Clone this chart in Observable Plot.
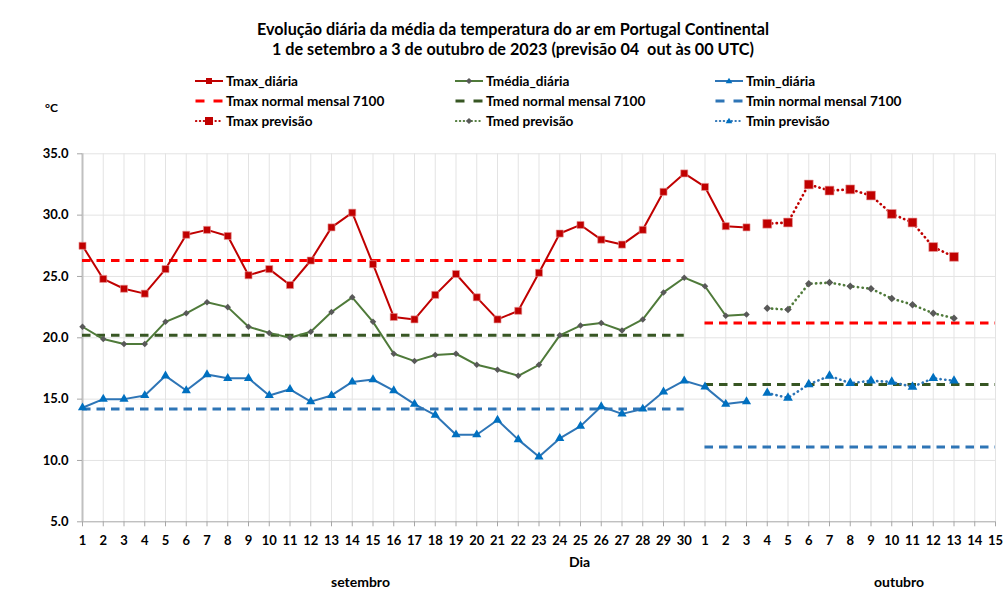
<!DOCTYPE html>
<html>
<head>
<meta charset="utf-8">
<script src="https://cdn.jsdelivr.net/npm/d3@7"></script>
<script src="https://cdn.jsdelivr.net/npm/@observablehq/plot@0.6"></script>
<style>
  html, body { margin: 0; padding: 0; background: #fff; }
  body { width: 1006px; height: 591px; position: relative; overflow: hidden; font-family: Lato, "Open Sans", sans-serif; font-weight: bold; color: #000; }
  .abs { position: absolute; white-space: pre; }
  #title { left: 20px; width: 986px; top: 19px; text-align: center; font-size: 16.2px; line-height: 19.5px; }
  .leg { position: absolute; font-size: 13.6px; line-height: 16px; display: flex; align-items: center; white-space: pre; }
  .leg svg { margin-right: 3px; }
  #chart { position: absolute; left: 0; top: 140px; }
</style>
</head>
<body>
<div id="title" class="abs">Evolução diária da média da temperatura do ar em Portugal Continental
1 de setembro a 3 de outubro de 2023 (previsão 04  out às 00 UTC)</div>
<div id="legend"></div>
<div class="abs" style="left:45px; top:100px; font-size:12px;">°C</div>
<div class="abs" style="left:569px; top:553px; font-size:14px;">Dia</div>
<div class="abs" style="left:331px; top:573px; font-size:14px;">setembro</div>
<div class="abs" style="left:874px; top:573px; font-size:14px;">outubro</div>
<div id="chart"></div>
<script>
// ---- data ----
const tickLabels = [...Array.from({length: 30}, (_, k) => String(k + 1)), ...Array.from({length: 15}, (_, k) => String(k + 1))];
const tmaxDaily = [27.5,24.8,24.0,23.6,25.6,28.4,28.8,28.3,25.1,25.6,24.3,26.3,29.0,30.2,26.0,21.7,21.5,23.5,25.2,23.3,21.5,22.2,25.3,28.5,29.2,28.0,27.6,28.8,31.9,33.4,32.3,29.1,29.0];
const tmedDaily = [20.9,19.9,19.5,19.5,21.3,22.0,22.9,22.5,20.9,20.4,20.0,20.5,22.1,23.3,21.3,18.7,18.1,18.6,18.7,17.8,17.4,16.9,17.8,20.2,21.0,21.2,20.6,21.5,23.7,24.9,24.2,21.8,21.9];
const tminDaily = [14.3,15.0,15.0,15.3,16.9,15.7,17.0,16.7,16.7,15.3,15.8,14.8,15.3,16.4,16.6,15.7,14.6,13.7,12.1,12.1,13.3,11.7,10.3,11.8,12.8,14.4,13.8,14.2,15.6,16.5,16.0,14.6,14.8];
const forecastStart = 33; // index of 4 October
const tmaxPrev = [29.3,29.4,32.5,32.0,32.1,31.6,30.1,29.4,27.4,26.6];
const tmedPrev = [22.4,22.3,24.4,24.5,24.2,24.0,23.2,22.7,22.0,21.6];
const tminPrev = [15.5,15.1,16.2,16.9,16.3,16.5,16.4,16.0,16.7,16.5];
// normals: [tmax, tmed, tmin]
const normalSept = [26.3, 20.2, 14.2];
const normalOct = [21.2, 16.2, 11.1];
const septSpan = [0, 29];
const octSpan = [30, 44];
const yTicks = [5, 10, 15, 20, 25, 30, 35];

// ---- styles ----
const C = {
  tmax: "#c00000", tmaxN: "#ff0000",
  tmed: "#4f7a3a", tmedN: "#375623", tmedM: "#595959",
  tmin: "#2e75b6", tminN: "#2e75b6", tminM: "#0070c0"
};
const dashN = "8.5,6";
const dotP = "0.3,4.4";

const daily = arr => arr.map((v, i) => ({i, v}));
const prev = arr => arr.map((v, k) => ({i: forecastStart + k, v}));
const idx = d3.range(tickLabels.length);

function normal(val, span, color) {
  return Plot.ruleY([val], {x1: span[0], x2: span[1], stroke: color, strokeWidth: 3, strokeDasharray: dashN});
}
function dotted(data, color) {
  return Plot.line(data, {x: "i", y: "v", stroke: color, strokeWidth: 2.6, strokeDasharray: dotP, strokeLinecap: "round"});
}

const chart = Plot.plot({
  width: 1006, height: 451,
  marginLeft: 82, marginRight: 11, marginTop: 13.3, marginBottom: 69.7,
  style: {fontFamily: "Lato, 'Open Sans', sans-serif", fontSize: "13px", fontWeight: "bold", color: "#000", background: "transparent"},
  x: {domain: [0, 44]},
  y: {domain: [5, 35]},
  marks: [
    Plot.gridX(idx, {stroke: "#e3e3e3", strokeOpacity: 1}),
    Plot.gridY(yTicks.filter(d => d > 5), {stroke: "#e3e3e3", strokeOpacity: 1}),
    Plot.ruleY([5], {stroke: "#a6a6a6", strokeWidth: 1}),
    Plot.ruleX([0], {stroke: "#c0c0c0", strokeWidth: 2}),
    Plot.axisX(idx, {tickFormat: i => tickLabels[i], tickSize: 5, tickPadding: 9, stroke: "#a6a6a6", fill: "#000", label: null, fontSize: 13}),
    Plot.axisY(yTicks, {tickFormat: d => d.toFixed(1), tickSize: 5, tickPadding: 9, stroke: "#a6a6a6", fill: "#000", label: null, fontSize: 13}),
    // normals
    normal(normalSept[0], septSpan, C.tmaxN),
    normal(normalSept[1], septSpan, C.tmedN),
    normal(normalSept[2], septSpan, C.tminN),
    normal(normalOct[0], octSpan, C.tmaxN),
    normal(normalOct[1], octSpan, C.tmedN),
    normal(normalOct[2], octSpan, C.tminN),
    // daily lines
    Plot.line(daily(tmaxDaily), {x: "i", y: "v", stroke: C.tmax, strokeWidth: 2}),
    Plot.dot(daily(tmaxDaily), {x: "i", y: "v", symbol: "square", r: 4, fill: C.tmax, stroke: "#e89a9a", strokeWidth: 0.6}),
    Plot.line(daily(tmedDaily), {x: "i", y: "v", stroke: C.tmed, strokeWidth: 2}),
    Plot.dot(daily(tmedDaily), {x: "i", y: "v", symbol: "square", rotate: 45, r: 2.6, fill: C.tmedM}),
    Plot.line(daily(tminDaily), {x: "i", y: "v", stroke: C.tmin, strokeWidth: 2}),
    Plot.dot(daily(tminDaily), {x: "i", y: "v", symbol: "triangle", r: 3.4, fill: C.tminM}),
    // forecasts
    dotted(prev(tmaxPrev), C.tmax),
    Plot.dot(prev(tmaxPrev), {x: "i", y: "v", symbol: "square", r: 5, fill: C.tmax, stroke: "#e89a9a", strokeWidth: 0.6}),
    dotted(prev(tmedPrev), C.tmed),
    Plot.dot(prev(tmedPrev), {x: "i", y: "v", symbol: "square", rotate: 45, r: 3, fill: C.tmedM}),
    dotted(prev(tminPrev), C.tmin),
    Plot.dot(prev(tminPrev), {x: "i", y: "v", symbol: "triangle", r: 3.6, fill: C.tminM})
  ]
});
document.getElementById("chart").appendChild(chart);

// ---- legend ----
const legendItems = [
  {label: "Tmax_diária", color: C.tmax, kind: "solid", marker: "square", mc: C.tmax, col: 0, row: 0},
  {label: "Tmédia_diária", color: C.tmed, kind: "solid", marker: "diamond", mc: C.tmedM, col: 1, row: 0},
  {label: "Tmin_diária", color: C.tmin, kind: "solid", marker: "triangle", mc: C.tminM, col: 2, row: 0},
  {label: "Tmax normal mensal 7100", color: C.tmaxN, kind: "dash", marker: null, col: 0, row: 1},
  {label: "Tmed normal mensal 7100", color: C.tmedN, kind: "dash", marker: null, col: 1, row: 1},
  {label: "Tmin normal mensal 7100", color: C.tminN, kind: "dash", marker: null, col: 2, row: 1},
  {label: "Tmax previsão", color: C.tmax, kind: "dot", marker: "square", mc: C.tmax, col: 0, row: 2},
  {label: "Tmed previsão", color: C.tmed, kind: "dot", marker: "diamond", mc: C.tmedM, col: 1, row: 2},
  {label: "Tmin previsão", color: C.tminN, kind: "dot", marker: "triangle", mc: C.tminM, col: 2, row: 2}
];
const colX = [195, 455, 715];
const rowY = [81.3, 100.7, 121.3];
const legend = document.getElementById("legend");
for (const it of legendItems) {
  const div = document.createElement("div");
  div.className = "leg";
  div.style.left = colX[it.col] + "px";
  div.style.top = (rowY[it.row] - 8) + "px";
  let m = "";
  const cx = 14;
  if (it.marker === "square") m = it.kind === "dot"
    ? `<rect x="${cx - 4}" y="2" width="8" height="8" fill="${it.mc}"/>`
    : `<rect x="${cx - 3}" y="3" width="6" height="6" fill="${it.mc}"/>`;
  if (it.marker === "diamond") m = `<rect x="${cx - 2.2}" y="3.8" width="4.4" height="4.4" fill="${it.mc}" transform="rotate(45 ${cx} 6)"/>`;
  if (it.marker === "triangle") m = `<path d="M${cx},2.8 L${cx + 3.3},8.3 L${cx - 3.3},8.3 Z" fill="${it.mc}"/>`;
  let line;
  if (it.kind === "solid") line = `<line x1="0" y1="6" x2="28" y2="6" stroke="${it.color}" stroke-width="2"/>`;
  else if (it.kind === "dash") line = `<line x1="0.5" y1="6" x2="27.5" y2="6" stroke="${it.color}" stroke-width="3" stroke-dasharray="9,9"/>`;
  else line = `<line x1="1" y1="6" x2="28" y2="6" stroke="${it.color}" stroke-width="2.2" stroke-dasharray="0.3,3.6" stroke-linecap="round"/>`;
  div.innerHTML = `<svg width="28" height="12" viewBox="0 0 28 12">${line}${m}</svg><span>${it.label}</span>`;
  legend.appendChild(div);
}
</script>
</body>
</html>
